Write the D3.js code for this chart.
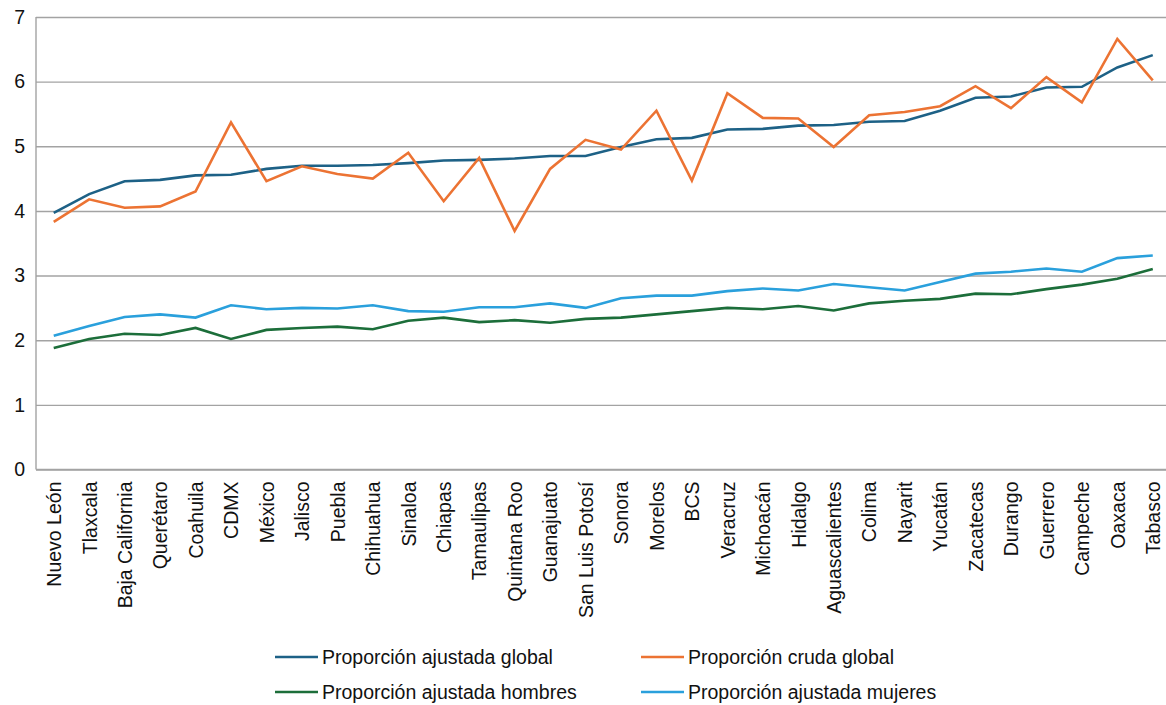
<!DOCTYPE html>
<html>
<head>
<meta charset="utf-8">
<script src="https://cdn.jsdelivr.net/npm/d3@7"></script>
<style>
  html, body { margin: 0; padding: 0; background: #fff; }
  svg { display: block; font-family: "Liberation Sans", Arial, sans-serif; }
</style>
</head>
<body>
<svg id="chart" width="1166" height="705"></svg>
<script>
// States, ordered by adjusted global proportion
const estados = ["Nuevo León","Tlaxcala","Baja California","Querétaro","Coahuila","CDMX","México","Jalisco","Puebla","Chihuahua","Sinaloa","Chiapas","Tamaulipas","Quintana Roo","Guanajuato","San Luis Potosí","Sonora","Morelos","BCS","Veracruz","Michoacán","Hidalgo","Aguascalientes","Colima","Nayarit","Yucatán","Zacatecas","Durango","Guerrero","Campeche","Oaxaca","Tabasco"];

const ajustadaGlobal  = [3.97,4.26,4.46,4.48,4.55,4.56,4.65,4.70,4.70,4.71,4.74,4.78,4.79,4.81,4.85,4.85,4.99,5.11,5.13,5.26,5.27,5.32,5.33,5.38,5.39,5.55,5.75,5.77,5.91,5.92,6.22,6.41];
const crudaGlobal     = [3.83,4.18,4.05,4.07,4.30,5.37,4.46,4.69,4.57,4.50,4.90,4.15,4.82,3.69,4.65,5.10,4.95,5.55,4.47,5.82,5.44,5.43,4.99,5.48,5.53,5.62,5.93,5.59,6.07,5.68,6.66,6.02];
const ajustadaHombres = [1.88,2.02,2.10,2.08,2.19,2.02,2.16,2.19,2.21,2.17,2.30,2.35,2.28,2.31,2.27,2.33,2.35,2.40,2.45,2.50,2.48,2.53,2.46,2.57,2.61,2.64,2.72,2.71,2.79,2.86,2.95,3.10];
const ajustadaMujeres = [2.07,2.22,2.36,2.40,2.35,2.54,2.48,2.50,2.49,2.54,2.45,2.44,2.51,2.51,2.57,2.50,2.65,2.69,2.69,2.76,2.80,2.77,2.87,2.82,2.77,2.90,3.03,3.06,3.11,3.06,3.27,3.31];

const yTicks = [0,1,2,3,4,5,6,7];

const series = [
  { name: "Proporción ajustada global",  values: ajustadaGlobal,  color: "#1d6186" },
  { name: "Proporción cruda global",     values: crudaGlobal,     color: "#ec7333" },
  { name: "Proporción ajustada hombres", values: ajustadaHombres, color: "#1c6e3a" },
  { name: "Proporción ajustada mujeres", values: ajustadaMujeres, color: "#2aa0dc" }
];

const fontSize = 19.5;
const svg = d3.select("#chart");
const plotLeft = 36, plotRight = 1170.5, plotTop = 17, plotBottom = 469.5;

const x = d3.scalePoint().domain(estados).range([plotLeft, plotRight]).padding(0.5);
const y = d3.scaleLinear().domain([0, 7]).range([plotBottom, plotTop]);

// Horizontal gridlines with value labels
const yAxis = svg.append("g")
  .attr("transform", `translate(${plotLeft},0)`)
  .call(d3.axisLeft(y).tickValues(yTicks).tickSize(-(1166 - plotLeft)).tickFormat(d3.format("d")).tickPadding(11));
yAxis.select(".domain").remove();
yAxis.selectAll(".tick line").attr("stroke", "#a3a3a3").attr("stroke-width", 1.4);
yAxis.selectAll(".tick text").attr("font-size", fontSize).attr("fill", "#111")
  .attr("font-family", "Liberation Sans, Arial, sans-serif");

// Left axis line
svg.append("line")
  .attr("x1", plotLeft).attr("x2", plotLeft).attr("y1", plotTop).attr("y2", plotBottom)
  .attr("stroke", "#a3a3a3").attr("stroke-width", 1.4);

// Category axis with rotated labels
const xAxis = svg.append("g")
  .attr("transform", `translate(0,${plotBottom})`)
  .call(d3.axisBottom(x).tickSize(0).tickPadding(0));
xAxis.select(".domain").remove();
svg.append("line")
  .attr("x1", plotLeft).attr("x2", 1166).attr("y1", plotBottom).attr("y2", plotBottom)
  .attr("stroke", "#a3a3a3").attr("stroke-width", 1.6);
xAxis.selectAll(".tick text")
  .attr("font-size", fontSize).attr("fill", "#111")
  .attr("font-family", "Liberation Sans, Arial, sans-serif")
  .attr("transform", "rotate(-90)")
  .attr("text-anchor", "end")
  .attr("x", -12).attr("y", 0).attr("dy", "0.35em");

// Series lines
const line = d3.line()
  .x((d, i) => x(estados[i]))
  .y(d => y(d));

svg.append("g").selectAll("path")
  .data(series)
  .join("path")
  .attr("d", s => line(s.values))
  .attr("fill", "none")
  .attr("stroke", s => s.color)
  .attr("stroke-width", 2.6)
  .attr("stroke-linejoin", "miter");

// Legend, two columns by two rows
const legendPos = [
  { x: 275, y: 657 },
  { x: 641, y: 657 },
  { x: 275, y: 692 },
  { x: 641, y: 692 }
];
const legend = svg.append("g").selectAll("g")
  .data(series)
  .join("g")
  .attr("transform", (s, i) => `translate(${legendPos[i].x},${legendPos[i].y})`);
legend.append("line")
  .attr("x1", 0).attr("x2", 43).attr("y1", 0).attr("y2", 0)
  .attr("stroke", s => s.color).attr("stroke-width", 2.6);
legend.append("text")
  .attr("x", 47).attr("y", 0).attr("dy", "0.35em")
  .attr("font-size", fontSize).attr("fill", "#111")
  .text(s => s.name);
</script>
</body>
</html>
